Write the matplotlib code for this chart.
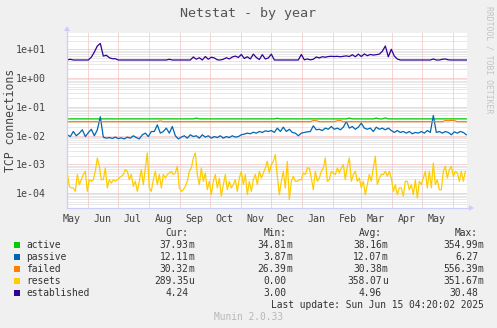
import numpy as np
import matplotlib.pyplot as plt
import matplotlib.dates as mdates
from matplotlib.patches import Rectangle, Polygon
from matplotlib.ticker import LogLocator, NullFormatter
from datetime import datetime, timedelta

plt.rcParams['font.family'] = 'DejaVu Sans Mono'

W, H = 497, 328
DPI = 100

# yearly window; most series sampled every 3 days, resets every 2 days
t0 = datetime(2024, 5, 11, 12, 0)
step_days = 3
resets_step_days = 2
t_start = datetime(2024, 5, 11, 4, 20)
t_end = datetime(2025, 6, 15, 4, 20)

# values in milli-connections (1e-3)
active = [
    37.9, 37.9, 37.9, 37.9, 37.9, 37.9, 37.9, 37.9, 37.9, 37.9,
    37.9, 37.9, 37.9, 37.9, 37.9, 37.9, 37.9, 37.9, 37.9, 37.9,
    37.9, 37.9, 37.9, 37.9, 37.9, 37.9, 37.9, 37.9, 37.9, 37.9,
    37.9, 37.9, 37.9, 37.9, 37.9, 37.9, 37.9, 37.9, 37.9, 37.9,
    37.9, 37.9, 37.9, 40.5, 37.9, 37.9, 37.9, 37.9, 37.9, 37.9,
    37.9, 37.9, 37.9, 37.9, 37.9, 37.9, 37.9, 37.9, 37.9, 37.9,
    37.9, 37.9, 37.9, 37.9, 37.9, 37.9, 37.9, 37.9, 37.9, 37.9,
    40.0, 37.9, 37.9, 37.9, 37.9, 37.9, 37.9, 37.9, 37.9, 37.9,
    37.9, 37.9, 37.9, 37.9, 37.9, 37.9, 37.9, 37.9, 37.9, 37.9,
    37.9, 37.9, 37.9, 37.9, 40.5, 37.9, 37.9, 37.9, 37.9, 37.9,
    37.9, 37.9, 37.9, 40.5, 37.9, 37.9, 41.0, 37.9, 37.9, 37.9,
    37.9, 37.9, 37.9, 37.9, 37.9, 37.9, 37.9, 37.9, 37.9, 37.9,
    37.9, 37.9, 37.9, 37.9, 37.9, 37.9, 37.9, 37.9, 37.9, 37.9,
    37.9, 37.9, 37.9, 37.9,
]
passive = [
    10.6, 9.2, 13.8, 9.8, 12.1, 15.8, 9.2, 12.5, 16.5, 9.8,
    15.8, 45.0, 8.8, 8.1, 8.5, 7.9, 8.8, 7.8, 8.3, 7.6,
    8.8, 8.1, 9.8, 8.5, 7.6, 10.6, 12.1, 9.2, 13.8, 13.8,
    23.5, 12.1, 13.8, 18.1, 12.1, 20.6, 9.8, 7.6, 8.8, 9.8,
    8.1, 10.6, 9.2, 9.8, 8.1, 10.6, 8.8, 9.8, 8.1, 9.2,
    8.5, 9.8, 8.1, 9.2, 8.5, 9.8, 8.8, 9.2, 10.6, 11.2,
    12.1, 11.5, 13.0, 12.1, 13.8, 12.8, 14.5, 13.8, 14.9, 12.8,
    18.1, 13.8, 19.5, 13.8, 16.5, 12.8, 12.1, 9.8, 12.1, 12.8,
    13.4, 13.8, 21.7, 15.8, 16.5, 14.9, 18.1, 16.5, 20.6, 16.5,
    18.1, 15.8, 19.5, 30.6, 18.1, 20.6, 16.5, 19.5, 27.0, 18.1,
    16.5, 18.1, 13.8, 19.5, 16.5, 18.1, 15.8, 18.1, 14.9, 12.8,
    14.9, 12.8, 13.8, 12.1, 13.8, 11.5, 12.8, 12.1, 13.8, 12.1,
    14.9, 12.8, 50.0, 12.8, 13.8, 12.1, 13.8, 12.8, 10.6, 13.4,
    12.1, 13.8, 12.8, 10.6,
]
failed = [
    30.3, 30.3, 30.3, 30.3, 30.3, 30.3, 30.3, 30.3, 30.3, 30.3,
    30.3, 30.3, 30.3, 30.3, 30.3, 30.3, 30.3, 30.3, 30.3, 30.3,
    30.3, 30.3, 30.3, 30.3, 30.3, 30.3, 30.3, 30.3, 30.3, 30.3,
    30.3, 32.0, 30.3, 30.3, 30.3, 30.3, 30.3, 30.3, 30.3, 30.3,
    30.3, 30.3, 30.3, 30.3, 30.3, 30.3, 30.3, 30.3, 30.3, 30.3,
    30.3, 30.3, 30.3, 30.3, 30.3, 30.3, 30.3, 30.3, 30.3, 30.3,
    30.3, 30.3, 30.3, 30.3, 30.3, 30.3, 30.3, 30.3, 30.3, 30.3,
    30.3, 30.3, 30.3, 30.3, 30.3, 30.3, 30.3, 30.3, 30.3, 30.3,
    30.3, 30.3, 33.0, 32.5, 30.3, 30.3, 30.3, 30.3, 30.3, 30.3,
    32.5, 33.0, 30.3, 30.3, 30.3, 30.3, 30.3, 30.3, 30.3, 30.3,
    30.3, 30.3, 30.3, 30.3, 30.3, 30.3, 30.3, 30.3, 30.3, 30.3,
    30.3, 30.3, 30.3, 30.3, 30.3, 30.3, 30.3, 30.3, 30.3, 30.3,
    30.3, 30.3, 30.3, 30.3, 30.3, 30.3, 33.0, 32.5, 33.5, 33.0,
    30.3, 30.3, 30.3, 30.3,
]
# values in 1e-4 connections, one every 2 days
resets = [
    5.0, 1.7, 1.5, 1.5, 1.14, 4.4, 1.95, 2.9, 4.4, 5.7,
    1.14, 2.9, 2.55, 2.9, 5.7, 16.6, 8.5, 2.9, 2.9, 7.4,
    1.5, 2.9, 2.2, 2.9, 2.55, 2.9, 3.3, 3.8, 4.4, 6.5,
    5.7, 2.9, 4.4, 1.7, 2.55, 1.14, 2.55, 6.5, 1.95, 7.4,
    24.8, 1.5, 1.14, 2.9, 5.7, 1.95, 4.4, 1.5, 4.4, 3.3,
    4.4, 5.0, 5.7, 4.4, 5.0, 8.5, 1.5, 1.14, 1.3, 1.7,
    2.55, 5.7, 7.4, 16.6, 24.8, 4.4, 1.95, 7.4, 2.55, 5.0,
    1.3, 2.55, 0.87, 2.55, 4.4, 1.5, 3.3, 0.77, 1.95, 4.4,
    1.3, 2.55, 1.5, 1.95, 2.9, 1.14, 3.3, 5.7, 1.95, 4.4,
    0.87, 2.55, 1.14, 2.9, 4.4, 1.95, 5.7, 3.3, 5.0, 7.4,
    12.7, 5.0, 9.7, 12.7, 21.7, 3.8, 0.87, 2.55, 5.7, 1.5,
    12.7, 0.59, 2.55, 3.8, 2.55, 2.55, 2.9, 2.9, 5.0, 4.4,
    7.4, 7.4, 3.3, 1.3, 5.7, 2.55, 3.3, 5.7, 7.4, 16.6,
    2.55, 2.9, 5.7, 5.0, 4.4, 7.4, 5.0, 7.4, 9.7, 2.9,
    8.5, 16.6, 2.55, 4.4, 5.7, 2.55, 3.3, 1.5, 2.55, 0.87,
    1.95, 4.4, 2.55, 7.4, 19.0, 1.95, 3.3, 4.4, 4.4, 5.7,
    3.8, 5.7, 3.3, 1.14, 1.95, 0.87, 1.5, 1.5, 0.77, 2.55,
    2.55, 1.3, 1.95, 0.87, 2.9, 0.67, 2.55, 1.95, 3.3, 5.7,
    1.5, 5.7, 1.5, 11.1, 1.95, 2.9, 1.3, 1.3, 5.7, 8.5,
    3.3, 6.5, 8.5, 3.8, 5.7, 5.0, 2.55, 5.7, 2.55, 5.7,
]
# plain connection counts
established = [
    4.30, 4.50, 4.24, 4.24, 4.24, 4.24, 4.24, 4.24, 5.30, 8.00,
    13.0, 16.0, 5.80, 6.20, 5.10, 4.70, 4.70, 4.24, 4.24, 4.24,
    4.24, 4.24, 4.24, 4.24, 4.24, 4.24, 4.24, 4.24, 4.24, 4.24,
    4.24, 4.24, 4.24, 4.24, 4.50, 4.24, 4.24, 4.24, 4.24, 4.24,
    4.24, 4.24, 5.40, 4.50, 5.10, 4.24, 5.60, 4.50, 5.30, 5.00,
    4.30, 4.24, 4.50, 5.10, 4.60, 5.40, 5.80, 5.20, 6.60, 4.80,
    5.50, 4.60, 6.80, 5.20, 4.40, 6.50, 4.60, 5.00, 6.80, 4.24,
    4.24, 4.24, 4.24, 4.24, 4.24, 4.24, 4.24, 4.24, 6.60, 4.30,
    4.60, 4.30, 4.50, 5.40, 5.00, 5.50, 5.30, 5.60, 5.70, 5.60,
    5.70, 5.50, 5.70, 5.90, 5.60, 6.50, 5.50, 6.80, 5.60, 6.90,
    6.00, 6.60, 6.30, 6.50, 6.80, 8.50, 13.0, 5.50, 10.0, 5.80,
    4.60, 4.24, 4.24, 4.24, 4.24, 4.24, 4.24, 4.24, 4.24, 4.24,
    4.24, 4.24, 4.60, 4.24, 4.24, 4.50, 4.60, 4.30, 4.24, 4.24,
    4.24, 4.24, 4.24, 4.24,
]

labels = ['active', 'passive', 'failed', 'resets', 'established']
colors = ['#00cc00', '#0066b3', '#ff8000', '#ffcc00', '#330099']
cur = ['37.93m', '12.11m', '30.32m', '289.35u', '4.24']
vmin = ['34.81m', '3.87m', '26.39m', '0.00', '3.00']
vavg = ['38.16m', '12.07m', '30.38m', '358.07u', '4.96']
vmax = ['354.99m', '6.27', '556.39m', '351.67m', '30.48']


def day_axis(n, step):
    return [t0 + timedelta(days=step * i) for i in range(n)]


series = [
    (day_axis(len(active), step_days), np.array(active) * 1e-3),
    (day_axis(len(passive), step_days), np.array(passive) * 1e-3),
    (day_axis(len(failed), step_days), np.array(failed) * 1e-3),
    (day_axis(len(resets), resets_step_days), np.array(resets) * 1e-4),
    (day_axis(len(established), step_days), np.array(established)),
]

fig = plt.figure(figsize=(W / DPI, H / DPI), dpi=DPI, facecolor='#f0f0f0')

# plot canvas in pixel terms
px_l, px_r, px_t, px_b = 67, 467, 33, 208
ax = fig.add_axes([px_l / W, 1 - px_b / H, (px_r - px_l) / W, (px_b - px_t) / H])
ax.set_facecolor('white')
for s in ax.spines.values():
    s.set_visible(False)

for (t, y), c in zip(series, colors):
    ax.plot(t, y, color=c, lw=0.9)

ax.set_yscale('log')
ax.set_ylim(10 ** -4.522, 10 ** 1.567)
ax.set_xlim(t_start, t_end)

ax.yaxis.set_major_locator(LogLocator(base=10, numticks=20))
ax.yaxis.set_minor_locator(LogLocator(base=10, subs=np.arange(2, 10), numticks=20))
ax.yaxis.set_minor_formatter(NullFormatter())
ax.yaxis.set_major_formatter(plt.FuncFormatter(lambda v, p: '%.0e' % v))

ax.xaxis.set_major_locator(mdates.MonthLocator(bymonthday=1))
ax.xaxis.set_major_formatter(plt.NullFormatter())
ax.xaxis.set_minor_locator(mdates.MonthLocator(bymonthday=16))
ax.xaxis.set_minor_formatter(mdates.DateFormatter('%b'))

# 1px on / 1px off dotted grid
dots = (0, (1, 1))
ax.yaxis.grid(True, which='minor', color='#d2d2d2', lw=0.72, linestyle=dots)
ax.yaxis.grid(True, which='major', color='#f4aaaa', lw=0.72, linestyle=dots)
ax.xaxis.grid(True, which='major', color='#f4aaaa', lw=0.72, linestyle=dots)
ax.set_axisbelow(True)

ax.tick_params(axis='both', which='both', length=0, labelsize=7.2, labelcolor='#444444')
ax.tick_params(axis='y', pad=15)
ax.tick_params(axis='x', which='minor', pad=4)

# overlay in pixel coordinates for axis arrows, captions and legend
ov = fig.add_axes([0, 0, 1, 1])
ov.set_xlim(0, W)
ov.set_ylim(H, 0)
ov.axis('off')
ov.patch.set_alpha(0)

arrow_c = '#ccccff'
ov.plot([px_l, px_r + 3], [px_b, px_b], color=arrow_c, lw=0.9)
ov.add_patch(Polygon([[px_r + 2, px_b - 3], [px_r + 7, px_b], [px_r + 2, px_b + 3]],
                     closed=True, color=arrow_c, lw=0))
ov.plot([px_l, px_l], [px_b, px_t - 3], color=arrow_c, lw=0.9)
ov.add_patch(Polygon([[px_l - 3, px_t - 2], [px_l, px_t - 7], [px_l + 3, px_t - 2]],
                     closed=True, color=arrow_c, lw=0))

ov.text(248, 13.5, 'Netstat - by year', ha='center', va='center',
        fontsize=9.6, color='#555555')
ov.text(11, 120.5, 'TCP connections', ha='center', va='center', rotation=90,
        fontsize=8.3, color='#444444')
ov.text(489, 60, 'RRDTOOL / TOBI OETIKER', ha='center', va='center',
        rotation=270, fontsize=5.9, color='#c4c4c4')

fs = 6.9
txt_c = '#333333'
char_w = 7.2 / 72 * DPI * 0.602
col_right = [194.5, 292.5, 388, 484]
headers = ['Cur:', 'Min:', 'Avg:', 'Max:']
for xr, h in zip(col_right, headers):
    ov.text(xr - char_w, 233.5, h, ha='right', va='center', fontsize=fs, color=txt_c)

row_y0, row_dy = 245.5, 12
for k, (name, c) in enumerate(zip(labels, colors)):
    yk = row_y0 + row_dy * k
    ov.add_patch(Rectangle((14, yk - 3.5), 6, 6, color=c, lw=0))
    ov.text(26.5, yk, name, ha='left', va='center', fontsize=fs, color=txt_c)
    for xr, vals in zip(col_right, [cur, vmin, vavg, vmax]):
        v = vals[k]
        num, unit = (v[:-1], v[-1]) if v[-1].isalpha() else (v, '')
        ov.text(xr - char_w, yk, num, ha='right', va='center', fontsize=fs, color=txt_c)
        if unit:
            ov.text(xr - char_w, yk, unit, ha='left', va='center', fontsize=fs, color=txt_c)

ov.text(484, 305.5, 'Last update: Sun Jun 15 04:20:02 2025', ha='right', va='center',
        fontsize=fs, color=txt_c)
ov.text(248, 317, 'Munin 2.0.33', ha='center', va='center', fontsize=fs, color='#b8b8b8')

fig.savefig('out.png', dpi=DPI, facecolor=fig.get_facecolor())
